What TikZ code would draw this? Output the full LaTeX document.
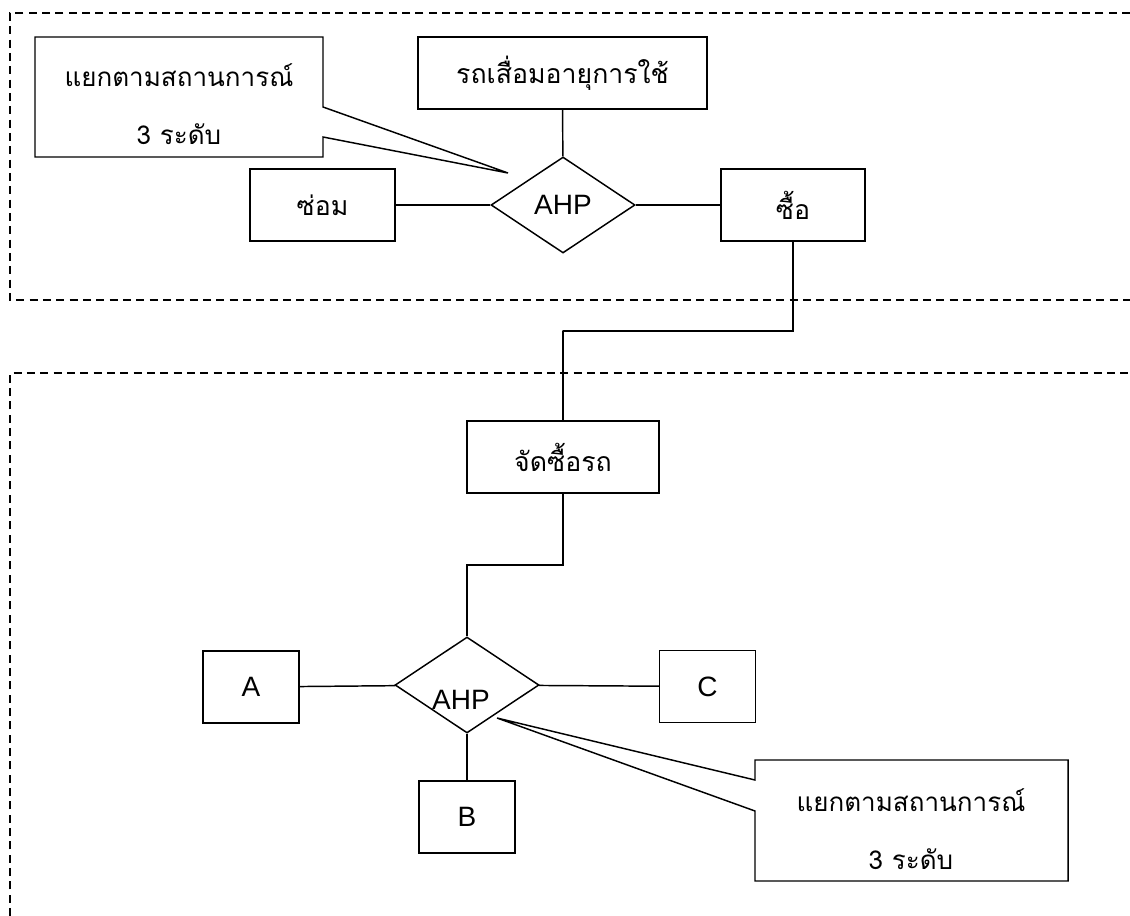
\documentclass[tikz,border=0pt]{standalone}
\usepackage{fontspec}
\usetikzlibrary{shapes.geometric}
\newfontfamily\thaifont[Script=Thai]{Loma}
\newfontfamily\latinfont{Liberation Sans}

\begin{document}
\begin{tikzpicture}
  [x=0.75pt,y=-0.75pt,line width=1.1pt,
   ent/.style={draw,rectangle,inner sep=0pt,minimum height=54pt,font=\thaifont\fontsize{20}{24}\selectfont},
   small/.style={draw,rectangle,inner sep=0pt,minimum width=72pt,minimum height=54pt,font=\latinfont\fontsize{21}{24}\selectfont},
   rel/.style={draw,diamond,inner sep=0pt,minimum width=108pt,minimum height=72pt,font=\latinfont\fontsize{21}{24}\selectfont},
   note/.style={align=center,inner sep=0pt,font=\thaifont\fontsize{19.5}{43.5}\selectfont},
   frame/.style={line width=0.9pt,dash pattern=on 6pt off 4pt}]
  \useasboundingbox (0,0) rectangle (1130,916);

  % dashed groups
  \draw[frame] (1130,13) -- (10,13) -- (10,300) -- (1130,300);
  \draw[frame] (10,916) -- (10,373) -- (1130,373);

  % upper level
  \node[ent,minimum width=216.75pt] (old) at (562.5,73) {รถเสื่อมอายุการใช้};
  \node[ent,minimum width=108.75pt] (fix) at (322.5,205) {ซ่อม};
  \node[ent,minimum width=108pt] (buy) at (793,205) {ซื้อ};
  \node[rel] (ahp1) at (563,205) {AHP};

  % lower level
  \node[ent,minimum width=144pt] (order) at (563,457) {จัดซื้อรถ};
  \node[rel] (ahp2) at (467,685) {};
  \node[font=\latinfont\fontsize{21}{24}\selectfont] (ahplbl) at (461,700) {AHP};
  \node[small] (a) at (251,687) {A};
  \node[small] (b) at (467,817) {B};
  \node[small] (c) at (707.5,686.5) {C};

  \coordinate (k1) at (562.5,331);
  \coordinate (k2) at (467,565);

  \foreach \from/\to in {old/ahp1,fix/ahp1,ahp1/buy,a/ahp2,ahp2/c,ahp2/b}
    \draw (\from) -- (\to);
  \draw (buy) |- (k1) -| (order);
  \draw (order) |- (k2) -| (ahp2);

  % callouts
  \node[note] (note1) at (179,104) {แยกตามสถานการณ์\\3 ระดับ};
  \coordinate (tip1) at (508,173);
  \draw (323,107) -- (tip1) -- (323,137) -- (323,157) -- (35,157) -- (35,37) -- (323,37) -- cycle;

  \node[note] (note2) at (911,829) {แยกตามสถานการณ์\\3 ระดับ};
  \coordinate (tip2) at (497,718);
  \draw (755,780) -- (tip2) -- (755,811) -- (755,881) -- (1068,881) -- (1068,760) -- (755,760) -- cycle;
\end{tikzpicture}
\end{document}
